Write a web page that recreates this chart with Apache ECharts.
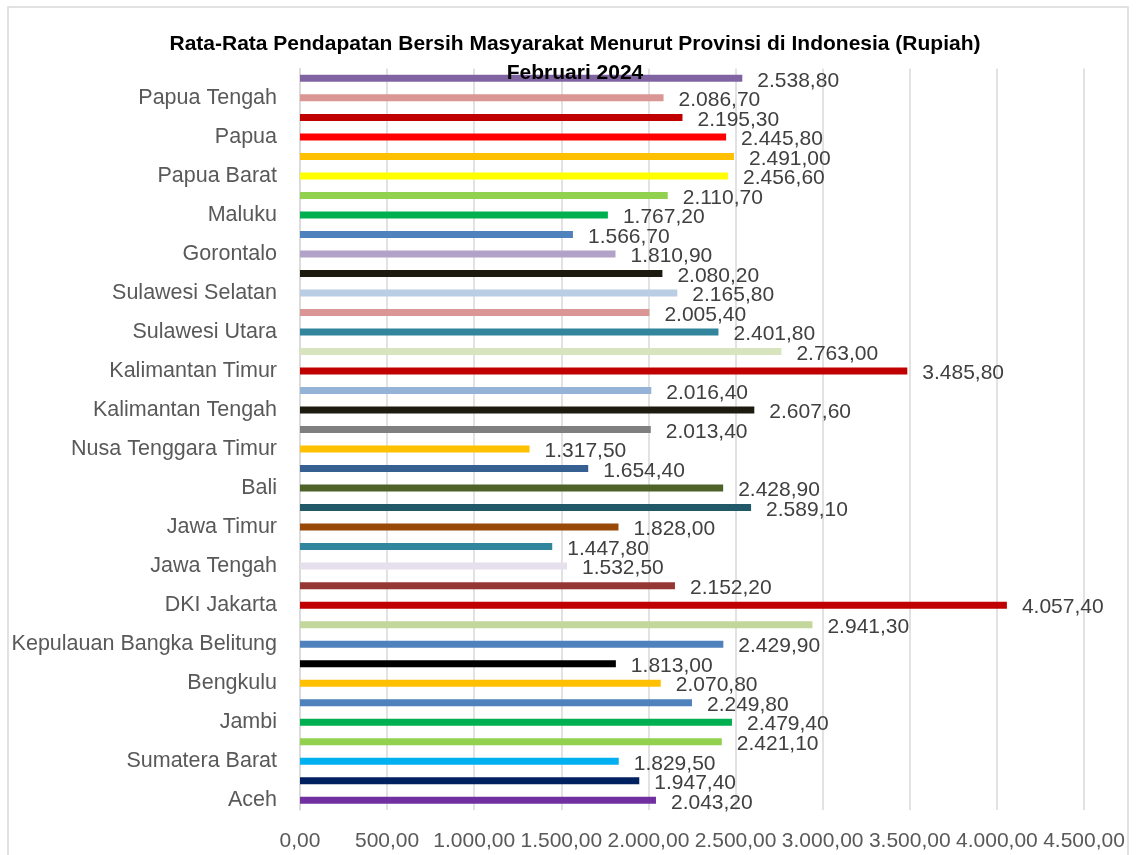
<!DOCTYPE html>
<html>
<head>
<meta charset="utf-8">
<script src="https://cdn.jsdelivr.net/npm/echarts@6/dist/echarts.min.js"></script>
<style>
html,body{margin:0;padding:0;background:#fff;}
#chart{width:1136px;height:855px;}
</style>
</head>
<body>
<div id="chart"></div>
<script>
const provinces = [
  "Aceh","Sumatera Utara","Sumatera Barat","Riau","Jambi","Sumatera Selatan","Bengkulu","Lampung",
  "Kepulauan Bangka Belitung","Kepulauan Riau","DKI Jakarta","Jawa Barat","Jawa Tengah","DI Yogyakarta",
  "Jawa Timur","Banten","Bali","Nusa Tenggara Barat","Nusa Tenggara Timur","Kalimantan Barat",
  "Kalimantan Tengah","Kalimantan Selatan","Kalimantan Timur","Kalimantan Utara","Sulawesi Utara",
  "Sulawesi Tengah","Sulawesi Selatan","Sulawesi Tenggara","Gorontalo","Sulawesi Barat","Maluku",
  "Maluku Utara","Papua Barat","Papua Barat Daya","Papua","Papua Selatan","Papua Tengah","Papua Pegunungan"
];
const incomeValues = [
  2043.2,1947.4,1829.5,2421.1,2479.4,2249.8,2070.8,1813.0,
  2429.9,2941.3,4057.4,2152.2,1532.5,1447.8,
  1828.0,2589.1,2428.9,1654.4,1317.5,2013.4,
  2607.6,2016.4,3485.8,2763.0,2401.8,
  2005.4,2165.8,2080.2,1810.9,1566.7,1767.2,
  2110.7,2456.6,2491.0,2445.8,2195.3,2086.7,2538.8
];
const barColors = [
  "#7030A0","#002060","#00B0F0","#92D050","#00B050","#4F81BD","#FFC000","#000000",
  "#4F81BD","#C3D69B","#C00000","#953735","#E6E0EC","#31859C",
  "#984807","#215968","#4F6228","#376092","#FFC000","#7F7F7F",
  "#1D1B10","#95B3D7","#C00000","#D7E4BD","#31859C",
  "#DA9694","#B9CDE5","#1D1B10","#B3A2C7","#4F81BD","#00B050",
  "#92D050","#FFFF00","#FFC000","#FF0000","#C00000","#DA9694","#8064A2"
];
const xTicks = {min:0, max:4500, interval:500};
const titleText = "Rata-Rata Pendapatan Bersih Masyarakat Menurut Provinsi di Indonesia (Rupiah)\nFebruari 2024";

function fmtID(v){
  return Number(v).toFixed(2).replace('.', ',').replace(/\B(?=(\d{3})+(?!\d))/g, '.');
}

const FONT = "'Liberation Sans', Arial, sans-serif";
const chart = echarts.init(document.getElementById('chart'), null, {renderer:'canvas'});
chart.setOption({
  backgroundColor:'#fff',
  animation:false,
  graphic:[{
    type:'rect', z:-10, silent:true,
    shape:{x:8, y:7, width:1120, height:870},
    style:{fill:'none', stroke:'#d9d9d9', lineWidth:1.5}
  }],
  title:{
    text:titleText,
    left:570, top:25, textAlign:'center',
    textStyle:{fontFamily:FONT, fontWeight:'bold', fontSize:21, lineHeight:29, color:'#000'}
  },
  grid:{left:300, right:52, top:68.6, bottom:45, containLabel:false},
  xAxis:{
    type:'value', min:xTicks.min, max:xTicks.max, interval:xTicks.interval,
    axisLine:{show:false}, axisTick:{show:false},
    splitLine:{show:true, lineStyle:{color:'#d9d9d9', width:1.5}},
    axisLabel:{formatter:fmtID, color:'#595959', fontFamily:FONT, fontSize:21, margin:21, hideOverlap:false}
  },
  yAxis:{
    type:'category', data:provinces,
    axisLine:{show:true, lineStyle:{color:'#d9d9d9', width:1.5}},
    axisTick:{show:false},
    axisLabel:{interval:1, color:'#595959', fontFamily:FONT, fontSize:21.5, margin:23}
  },
  series:[{
    type:'bar', barWidth:7,
    data:incomeValues.map((v,i)=>({value:v, itemStyle:{color:barColors[i]}})),
    label:{show:true, position:'right', distance:15, offset:[0,2.5], formatter:p=>fmtID(p.value),
      color:'#404040', fontFamily:FONT, fontSize:21}
  }]
});
</script>
</body>
</html>
